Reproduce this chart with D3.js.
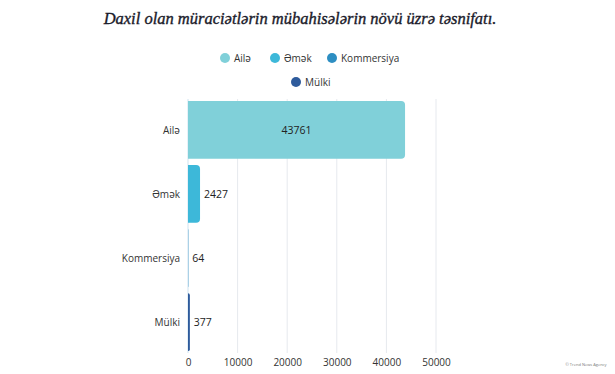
<!DOCTYPE html>
<html><head><meta charset="utf-8">
<script src="https://cdn.jsdelivr.net/npm/d3@7"></script>
<style>body{margin:0;background:#fff;}svg{display:block;}</style>
</head><body>
<script>
const categories = ["Ailə", "Əmək", "Kommersiya", "Mülki"];
const values = [43761, 2427, 64, 377];
const colors = ["#80d0d9", "#3db8d9", "#2d8ec2", "#2e5b9c"];
const tickValues = [0, 10000, 20000, 30000, 40000, 50000];
const title = "Daxil olan müraciətlərin mübahisələrin növü üzrə təsnifatı.";

const W = 615, H = 374;
const svg = d3.select("body").append("svg").attr("width", W).attr("height", H);

svg.append("text").attr("x", 300).attr("y", 24).attr("text-anchor", "middle")
  .style("font-family", "'Liberation Serif', serif").style("font-style", "italic")
  .style("font-size", "16.5px").attr("fill", "#1a1a2a")
  .attr("stroke", "#1a1a2a").attr("stroke-width", 0.35).text(title);

// legend
const legendFont = "'Open Sans', sans-serif";
const legendItems = [
  {x: 225, y: 58}, {x: 275, y: 58}, {x: 332, y: 58}, {x: 296, y: 82}
];
categories.forEach((c, i) => {
  const g = svg.append("g").attr("transform", `translate(${legendItems[i].x},${legendItems[i].y})`);
  g.append("circle").attr("r", 5).attr("fill", colors[i]);
  g.append("text").attr("x", 9).attr("y", 3.5).style("font-family", legendFont)
    .style("font-size", "10px").attr("fill", "#333").text(c);
});

const x = d3.scaleLinear().domain([0, 50000]).range([188, 436]);
const y = d3.scaleBand().domain(categories).range([99, 353]).paddingInner(0.1).paddingOuter(0.03);

// grid
svg.append("g").selectAll("line").data(tickValues.slice(1)).join("line")
  .attr("x1", d => x(d)).attr("x2", d => x(d)).attr("y1", 99).attr("y2", 353)
  .attr("stroke", "#e6e9ee").attr("stroke-width", 1);
svg.append("line").attr("x1", x(0)).attr("x2", x(0)).attr("y1", 99).attr("y2", 353)
  .attr("stroke", "#cfe3f0").attr("stroke-width", 1);

// bars with rounded right end
function barPath(x0, x1, y0, h, r) {
  const w = x1 - x0;
  r = Math.min(r, w, h / 2);
  return `M${x0},${y0}H${x1 - r}Q${x1},${y0} ${x1},${y0 + r}V${y0 + h - r}Q${x1},${y0 + h} ${x1 - r},${y0 + h}H${x0}Z`;
}
svg.append("g").selectAll("path").data(categories).join("path")
  .attr("d", (c, i) => barPath(x(0), x(values[i]), y(c), y.bandwidth(), 4))
  .attr("fill", (c, i) => colors[i]);

// value labels
svg.append("g").selectAll("text").data(categories).join("text")
  .attr("x", (c, i) => i === 0 ? (x(0) + x(values[i])) / 2 : x(values[i]) + 4)
  .attr("y", c => y(c) + y.bandwidth() / 2 + 4)
  .attr("text-anchor", (c, i) => i === 0 ? "middle" : "start")
  .style("font-family", legendFont).style("font-size", "10.5px").attr("fill", "#222")
  .text((c, i) => values[i]);

// y axis labels
svg.append("g").selectAll("text").data(categories).join("text")
  .attr("x", 180).attr("y", c => y(c) + y.bandwidth() / 2 + 4)
  .attr("text-anchor", "end").style("font-family", legendFont).style("font-size", "10px")
  .attr("fill", "#333").text(c => c);

// x axis
const xAxis = svg.append("g").attr("transform", "translate(0,353)")
  .call(d3.axisBottom(x).tickValues(tickValues).tickSize(0).tickPadding(6).tickFormat(d3.format("d")));
xAxis.select(".domain").remove();
xAxis.selectAll("text").style("font-family", legendFont).style("font-size", "10px").attr("fill", "#333");

// watermark
svg.append("text").attr("x", 586).attr("y", 366).attr("text-anchor", "middle")
  .style("font-family", legendFont).style("font-size", "4px").attr("fill", "#777")
  .text("© Trend News Agency");
</script>
</body></html>
